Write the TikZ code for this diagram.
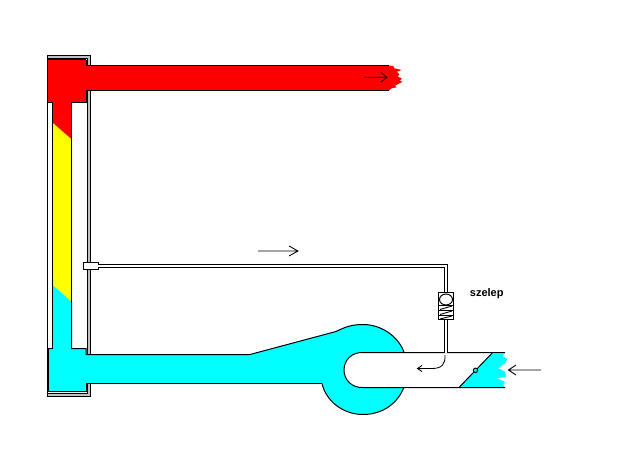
\documentclass[tikz,border=0pt]{standalone}
\usepackage{fontspec}
\setmainfont{Liberation Sans}
\definecolor{hot}{RGB}{255,0,0}
\definecolor{cold}{RGB}{0,255,255}
\definecolor{mid}{RGB}{255,255,0}
\definecolor{wall}{RGB}{192,192,192}
\tikzset{
  line/.style={draw=black,line width=1pt},
  flowarrow/.style={line width=0.85pt,draw=black},
}
\begin{document}
\begin{tikzpicture}[x=1pt,y=-1pt,line join=miter]
\useasboundingbox[fill=white] (0,0) rectangle (622,450);
% casing
\path[fill=wall,line] (47.5,55.5) -- (90.5,55.5) -- (90.5,396.5) -- (47.5,396.5) -- cycle;
\path[fill=white,line] (47.5,58.5) -- (87,58.5) -- (87,393) -- (47.5,393) -- cycle;
% column
\fill[mid] (52.5,120) rectangle (71.5,302);
% hot
\path[fill=hot] (47.5,59) -- (86,59) -- (86,65.5) -- (389,65.5) -- (393.3,66) -- (394.3,68.3) -- (401.7,70) -- (396.7,71.7) -- (399.3,74.3) -- (397.7,76.7) -- (401.7,78.3) -- (400,81) -- (402.7,81.7) -- (398.3,84) -- (395,85.7) -- (396.7,87.3) -- (391.7,88.3) -- (389,90.5) -- (86,90.5) -- (86,102.5) -- (71.5,102.5) -- (71.5,139) -- (52.5,122.5) -- (52.5,102.5) -- (47.5,102.5) -- cycle;
\draw[line] (389,65.5) -- (86,65.5) -- (86,59.5);
\draw[line] (389,90.5) -- (86,90.5) -- (86,102.5) -- (71.5,102.5) -- (71.5,139);
\draw[line,line width=1.4pt] (47.5,59.7) -- (86,59.7);
\draw[line] (47.5,59) -- (47.5,102.5) -- (52.5,102.5) -- (52.5,122.5);
% cold
\path[fill=cold] (52.5,285) -- (71.5,301.7) -- (71.5,348.5) -- (86,348.5) -- (86,354.5) -- (250,354.5) -- (336,331.5) .. controls (345,327) and (352,324.5) .. (363,324.5) .. controls (381,324.5) and (398,336) .. (404,352) -- (404,387) .. controls (398,403) and (383,414.5) .. (363,414.5) .. controls (343,414.5) and (326,401) .. (322,383.5) -- (86,383.5) -- (86,391.5) -- (48.5,391.5) -- (48.5,348.5) -- (52.5,348.5) -- cycle;
\draw[line] (52.5,285) -- (52.5,348.5) -- (48.5,348.5) -- (48.5,391.5) -- (86,391.5) -- (86,383.5) -- (322,383.5);
\draw[line] (71.5,301.7) -- (71.5,348.5) -- (86,348.5) -- (86,354.5) -- (250,354.5) -- (336,331.5);
\draw[line] (47.5,102) -- (47.5,396.5);
\draw[line] (52.5,102.5) -- (52.5,348);
\draw[line] (71.5,139) -- (71.5,348);
% pump outline
\draw[line] (336,331.5) .. controls (345,327) and (352,324.5) .. (363,324.5) .. controls (381,324.5) and (398,336) .. (404,352);
\draw[line] (322,383.5) .. controls (326,401) and (343,414.5) .. (363,414.5) .. controls (383,414.5) and (398,403) .. (404,387);
% inlet
\path[fill=white,line] (505,352.5) -- (363,352.5) .. controls (352,352) and (344,360) .. (344,370) .. controls (344,380) and (352,388) .. (363,387.5) -- (505,387.5);
\path[fill=cold] (492.7,352.5) -- (505,352.5) -- (502.7,356) -- (507.3,359) -- (505,363.3) -- (498.3,368.3) -- (505,371.7) -- (506,376.7) -- (496.7,378.3) -- (505,381.7) -- (503.3,385) -- (505,387.5) -- (459,387.5) -- cycle;
\draw[line] (492.7,352.5) -- (505,352.5);
\draw[line] (459,387.5) -- (505,387.5);
\draw[line] (492.7,352.5) -- (459,387.5);
\draw[line,fill=cold] (475.5,370.3) circle (2.2);
% thin tube
\path[fill=white,line] (83,262.5) -- (98.5,262.5) -- (98.5,264.5) -- (447.5,264.5) -- (447.5,352.5) -- (444,352.5) -- (444,267.5) -- (98.5,267.5) -- (98.5,269.5) -- (83,269.5) -- cycle;
\fill[white] (444.6,351) rectangle (446.9,353.2);
% valve
\path[fill=white,line] (438.5,292.5) rectangle (453.5,319.5);
\draw[line] (446,299.5) ellipse (6.5 and 5.5);
\draw[line,line width=0.9pt] (438.5,305.5) -- (453.5,305.5) (438.5,310.5) -- (453.5,310.5) (438.5,315.5) -- (453.5,315.5);
\draw[line,line width=0.9pt] (440,309.5) -- (452,306) (440,314.5) -- (452,311) (440,319) -- (452,316);
% arrows
\coordinate (a1) at (364,77.3); \coordinate (a2) at (387,77.3);
\draw[flowarrow] (a1) -- (a2) (381,72.5) -- (a2) -- (381,82);
\coordinate (b1) at (258,251); \coordinate (b2) at (298,251);
\draw[flowarrow] (b1) -- (b2) (289,246) -- (b2) -- (289,256);
\coordinate (c1) at (541,370); \coordinate (c2) at (508.5,370);
\draw[flowarrow] (c1) -- (c2) (516,365) -- (c2) -- (516,375);
\coordinate (d1) at (445,355); \coordinate (d2) at (417.5,368.5);
\draw[flowarrow] (d1) .. controls (445.5,364) and (442,368.5) .. (432,368.5) -- (d2) (422,365.5) -- (d2) -- (422,371.5);
% label
\node[font=\bfseries\fontsize{11}{13}\selectfont,inner sep=0pt] (lab) at (486.7,293.3) {szelep};
\end{tikzpicture}
\end{document}
